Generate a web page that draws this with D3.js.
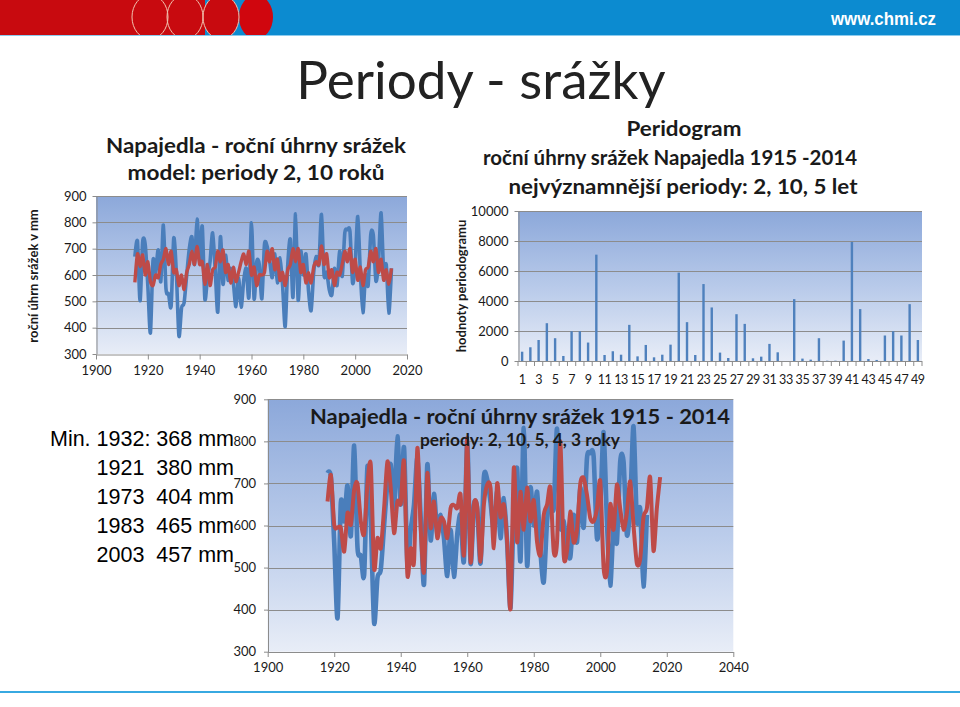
<!DOCTYPE html>
<html><head><meta charset="utf-8">
<script src="https://cdn.jsdelivr.net/npm/d3@7"></script>
<style>
body{margin:0;background:#fff}
svg{display:block}
text{font-family:Lato,"Open Sans",sans-serif;fill:#1a1a1a}
</style>
</head><body>
<svg id="s" width="960" height="707"></svg>
<script>
// ---------- DATA ----------
const firstYear = 1915;
// observed annual precipitation, Napajedla 1915-2014 (mm)
const observed = [670,728,502,725,715,560,380,655,610,695,575,790,548,528,482,740,610,368,475,495,
600,700,745,640,812,650,785,510,590,650,760,620,460,745,565,675,580,625,570,480,
590,478,580,625,515,798,510,650,640,510,715,710,655,590,680,570,665,560,404,640,
735,515,832,505,690,600,680,540,465,610,670,640,830,600,610,545,525,625,560,690,
595,760,772,765,570,640,822,610,457,600,560,752,752,578,650,836,610,640,455,625];
// model with periods 2 and 10 years, 1915-2014
const model2_10 = [572,680,632,676,600,650,575,560,600,590,640,660,700,640,690,610,620,560,600,545,
610,640,690,640,708,640,650,565,640,560,620,630,690,650,695,610,640,570,630,575,
610,650,680,640,690,600,630,560,600,600,610,690,650,700,620,660,580,610,560,620,
640,700,650,700,610,640,570,610,570,630,650,640,710,640,680,590,620,560,610,600,
640,690,650,700,610,660,580,630,560,620,630,690,650,700,610,660,580,620,565,625];
// bottom chart: observed shown from 1918, model (2,10,5,4,3) 1918-2019
const bottomStart = 1918;
const modelFull = [657,720,602,595,594,538,630,602,685,700,610,580,700,744,498,570,546,641,752,689,
582,657,653,752,483,546,514,784,594,490,724,594,657,570,617,610,570,641,649,641,
673,530,808,514,649,645,514,649,697,690,546,700,620,650,560,403,737,560,680,590,
690,610,660,560,530,625,650,690,538,560,800,530,540,633,560,590,700,713,673,617,
610,640,705,500,490,650,590,697,640,590,630,705,600,510,520,620,640,715,540,640,715];
// periodogram values, frequencies 1..49
const periodIdx = d3.range(1, 50);
const periodogram = [620,915,1400,2520,1520,335,1985,1985,1230,7090,400,650,420,2410,310,1070,245,420,1090,5890,
2590,400,5130,3570,560,200,3120,2475,180,290,1140,580,0,4125,160,90,1520,20,20,1360,
7940,3460,130,70,1700,1985,1700,3790,1400];
const yTicksPrecip = [300,400,500,600,700,800,900];
const xTicksTop = [1900,1920,1940,1960,1980,2000,2020];
const xTicksBottom = [1900,1920,1940,1960,1980,2000,2020,2040];
const yTicksPer = [0,2000,4000,6000,8000,10000];
const minLines = ["Min. 1932: 368 mm","1921  380 mm","1973  404 mm","1983  465 mm","2003  457 mm"];

const BLUE = "#4A7EBB", RED = "#BE4B48", GRID = "#8c8c8c", AX = "#8c8c8c";

const svg = d3.select("#s");
const defs = svg.append("defs");
const grad = defs.append("linearGradient").attr("id","bg").attr("x1",0).attr("y1",0).attr("x2",0).attr("y2",1);
grad.append("stop").attr("offset","0%").attr("stop-color","#8CA8DA");
grad.append("stop").attr("offset","55%").attr("stop-color","#BCCDEB");
grad.append("stop").attr("offset","100%").attr("stop-color","#E8EDF7");

// ---------- HEADER ----------
const hdr = svg.append("g");
defs.append("clipPath").attr("id","hc").append("rect").attr("x",0).attr("y",0).attr("width",960).attr("height",35);
hdr.append("rect").attr("x",0).attr("y",0).attr("width",960).attr("height",35).attr("fill","#0C8BD0");
const hc = hdr.append("g").attr("clip-path","url(#hc)");
hc.append("rect").attr("x",0).attr("y",0).attr("width",205).attr("height",35).attr("fill","#C80A0F");
hc.append("ellipse").attr("cx",221).attr("cy",17).attr("rx",18).attr("ry",22).attr("fill","#C80A0F");
hc.append("ellipse").attr("cx",256).attr("cy",17).attr("rx",17).attr("ry",22).attr("fill","#D0060E");
hc.append("ellipse").attr("cx",150).attr("cy",17).attr("rx",18).attr("ry",22).attr("fill","none").attr("stroke","#F2C4B0").attr("stroke-width",1);
hc.append("ellipse").attr("cx",185).attr("cy",17).attr("rx",18).attr("ry",22).attr("fill","none").attr("stroke","#F2C4B0").attr("stroke-width",1);
hc.append("ellipse").attr("cx",221).attr("cy",17).attr("rx",18).attr("ry",22).attr("fill","none").attr("stroke","#F2C4B0").attr("stroke-width",1);
hdr.append("line").attr("x1",0).attr("x2",960).attr("y1",35.5).attr("y2",35.5).attr("stroke","#8CCBEE").attr("stroke-width",1);
hdr.append("text").attr("x",936).attr("y",25).attr("text-anchor","end")
  .style("font-family","'Liberation Sans Narrow','Liberation Sans',Arial,sans-serif").style("font-size","19px").style("font-weight","bold")
  .style("fill","#fff").attr("textLength",105).attr("lengthAdjust","spacingAndGlyphs").text("www.chmi.cz");

// ---------- BIG TITLE ----------
svg.append("text").attr("x",481).attr("y",99).attr("text-anchor","middle")
  .style("font-size","53px").style("fill","#222").text("Periody - srážky");

// helpers
function yGrid(g, y, x0, x1, ticks){
  g.selectAll(null).data(ticks).join("line")
   .attr("x1",x0).attr("x2",x1).attr("y1",d=>Math.round(y(d))+0.5).attr("y2",d=>Math.round(y(d))+0.5)
   .attr("stroke",GRID).attr("stroke-width",1);
}
function styleAxis(g, fs){
  g.select(".domain").attr("stroke",AX);
  g.selectAll(".tick line").attr("stroke",AX);
  g.selectAll(".tick text").style("font-family","Lato,sans-serif").style("font-size",fs).attr("fill","#1a1a1a");
}
function fitText(g, x, y, txt, size, weight, len){
  return g.append("text").attr("x",x).attr("y",y).attr("text-anchor","middle")
    .style("font-size",size+"px").style("font-weight",weight)
    .attr("textLength",len).attr("lengthAdjust","spacingAndGlyphs").text(txt);
}

// ---------- TOP-LEFT CHART ----------
{
  const x = d3.scaleLinear([1900,2020],[96,407]);
  const y = d3.scaleLinear([300,900],[354,196]);
  const g = svg.append("g");
  g.append("rect").attr("x",96).attr("y",196).attr("width",311).attr("height",158).attr("fill","url(#bg)");
  yGrid(g, y, 96, 407, yTicksPrecip.slice(1));
  const ax = g.append("g").attr("transform","translate(0,354.5)")
    .call(d3.axisBottom(x).tickValues(xTicksTop).tickFormat(d3.format("d")).tickSizeInner(5).tickSizeOuter(0).tickPadding(6));
  styleAxis(ax,"13px");
  const ay = g.append("g").attr("transform","translate(96.5,0)")
    .call(d3.axisLeft(y).tickValues(yTicksPrecip).tickSizeInner(4).tickSizeOuter(0).tickPadding(6));
  styleAxis(ay,"13px");
  const line = d3.line().x((d,i)=>x(firstYear+i)).y(d=>y(d)).curve(d3.curveCardinal.tension(0.2));
  g.append("path").datum(observed).attr("d",line).attr("fill","none").attr("stroke",BLUE).attr("stroke-width",3.6).attr("stroke-linejoin","round");
  g.append("path").datum(model2_10).attr("d",line).attr("fill","none").attr("stroke",RED).attr("stroke-width",3.4).attr("stroke-linejoin","round");
  fitText(g, 256, 153, "Napajedla - roční úhrny srážek", 21, "bold", 300);
  fitText(g, 256, 180, "model: periody 2, 10 roků", 21, "bold", 257);
  g.append("text").attr("transform","translate(38,276) rotate(-90)").attr("text-anchor","middle")
    .style("font-size","13px").style("font-weight","bold").text("roční úhrn srážek v mm");
}

// ---------- PERIODOGRAM ----------
{
  const x = d3.scaleBand(periodIdx,[518,922]);
  const y = d3.scaleLinear([0,10000],[361,211]);
  const g = svg.append("g");
  g.append("rect").attr("x",518).attr("y",211).attr("width",404).attr("height",150).attr("fill","url(#bg)");
  yGrid(g, y, 518, 922, yTicksPer.slice(1));
  g.selectAll(null).data(periodogram).join("rect")
    .attr("x",(d,i)=>x(periodIdx[i])+x.bandwidth()/2-1.2).attr("width",2.4)
    .attr("y",d=>y(d)).attr("height",d=>y(0)-y(d)).attr("fill","#4F81BD");
  const ay = g.append("g").attr("transform","translate(518.5,0)")
    .call(d3.axisLeft(y).tickValues(yTicksPer).tickFormat(d3.format("d")).tickSizeInner(4).tickSizeOuter(0).tickPadding(6));
  styleAxis(ay,"13px");
  g.append("line").attr("x1",518).attr("x2",922).attr("y1",361.5).attr("y2",361.5).attr("stroke",AX);
  g.selectAll(null).data(periodIdx.concat([50])).join("line")
    .attr("x1",d=> (d<50? x(d): 922)).attr("x2",d=> (d<50? x(d): 922))
    .attr("y1",361).attr("y2",366).attr("stroke",AX);
  g.selectAll(null).data(periodIdx.filter(d=>d%2===1)).join("text")
    .attr("x",d=>x(d)+x.bandwidth()/2).attr("y",384).attr("text-anchor","middle")
    .style("font-size","12.5px").style("letter-spacing","-0.4px").text(d=>d);
  g.append("text").attr("transform","translate(466,286) rotate(-90)").attr("text-anchor","middle")
    .style("font-size","13px").style("font-weight","bold").text("hodnoty periodogramu");
  fitText(g, 684, 136, "Peridogram", 21, "bold", 115);
  fitText(g, 670, 165, "roční úhrny srážek Napajedla 1915 -2014", 21, "bold", 374);
  fitText(g, 683, 194, "nejvýznamnější periody: 2, 10, 5 let", 21, "bold", 349);
}

// ---------- MIN TEXT ----------
{
  const g = svg.append("g");
  minLines.forEach((r,i)=>{
    g.append("text").attr("x",234).attr("y",446 + i*29).attr("text-anchor","end")
      .style("font-family","'Liberation Sans',Arial,sans-serif").style("font-size","21.5px").style("fill","#000")
      .attr("xml:space","preserve").style("white-space","pre").text(r);
  });
}

// ---------- BOTTOM CHART ----------
{
  const x = d3.scaleLinear([1900,2040],[267.7,733.3]);
  const y = d3.scaleLinear([300,900],[651.7,399.3]);
  const g = svg.append("g");
  g.append("rect").attr("x",267.7).attr("y",399.3).attr("width",465.6).attr("height",252.4).attr("fill","url(#bg)");
  yGrid(g, y, 267.7, 733.3, yTicksPrecip.slice(1));
  const ax = g.append("g").attr("transform","translate(0,652)")
    .call(d3.axisBottom(x).tickValues(xTicksBottom).tickFormat(d3.format("d")).tickSizeInner(5).tickSizeOuter(0).tickPadding(6));
  styleAxis(ax,"13px");
  const ay = g.append("g").attr("transform","translate(268,0)")
    .call(d3.axisLeft(y).tickValues(yTicksPrecip).tickSizeInner(4).tickSizeOuter(0).tickPadding(8));
  styleAxis(ay,"13px");
  const obs = observed.slice(bottomStart-firstYear);
  const line = d3.line().x((d,i)=>x(bottomStart+i)).y(d=>y(d)).curve(d3.curveCardinal.tension(0.2));
  g.append("path").datum(obs).attr("d",line).attr("fill","none").attr("stroke",BLUE).attr("stroke-width",4.6).attr("stroke-linejoin","round");
  g.append("path").datum(modelFull).attr("d",line).attr("fill","none").attr("stroke",RED).attr("stroke-width",4).attr("stroke-linejoin","round");
  fitText(g, 520, 424, "Napajedla - roční úhrny srážek 1915 - 2014", 21, "bold", 420);
  fitText(g, 520, 446, "periody: 2, 10, 5, 4, 3 roky", 16.5, "bold", 200);
}

// bottom accent line
svg.append("line").attr("x1",0).attr("x2",960).attr("y1",692).attr("y2",692).attr("stroke","#37A9E1").attr("stroke-width",2);
</script>
</body></html>
